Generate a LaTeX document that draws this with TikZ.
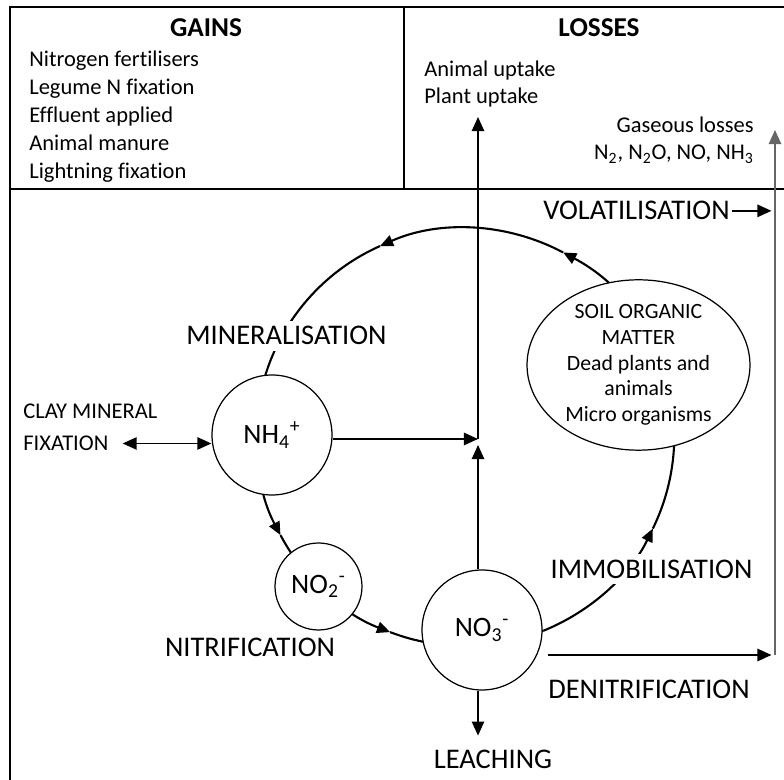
\documentclass[tikz,border=0pt]{standalone}
\usepackage{fontspec}
\setmainfont{Carlito}[Ligatures={NoCommon}]
\usetikzlibrary{shapes.geometric, arrows.meta, positioning, backgrounds, calc}

\begin{document}
\begin{tikzpicture}[x=0.02cm, y=0.02cm,
  frame/.style={line width=1pt},
  pool/.style={circle,draw,line width=0.7pt,fill=white,inner sep=0pt,font=\fontsize{16}{19}\selectfont},
  sombox/.style={ellipse,draw,line width=0.7pt,fill=white,inner sep=0pt,align=center,font=\fontsize{12.4}{14.6}\selectfont},
  small/.style={font=\fontsize{12.8}{15.9}\selectfont,inner sep=0pt},
  big/.style={font=\fontsize{16.2}{18}\selectfont},
  title/.style={font=\fontsize{15.5}{18}\selectfont\bfseries,inner sep=0pt},
  arr/.style={-{Triangle[length=8pt,width=7pt]},line width=1pt},
  dbl/.style={{Triangle[length=8pt,width=7pt]}-{Triangle[length=8pt,width=7pt]},line width=1pt},
  cyc/.style={-{Triangle[length=7.5pt,width=6.5pt]},line width=1.2pt},
  gasline/.style={draw=black!60,fill=black!60}
]
  \useasboundingbox (0,0) rectangle (784,780);

  % gains / losses table
  \draw[frame] (800,773) -| (10,-20);
  \draw[frame] (10,591) -- (800,591);
  \draw[frame] (404,773) -- (404,591);
  \node[title,anchor=base] (gains) at (206,743) {GAINS};
  \node[title,anchor=base] (losses) at (599,743) {LOSSES};
  \foreach \t [count=\i] in {Nitrogen fertilisers, Legume N fixation, Effluent applied, Animal manure, Lightning fixation}
    \node[small,anchor=base west] (g\i) at (29,{741-28*\i}) {\t};
  \node[small,anchor=base west] (animal) at (424,703) {Animal uptake};
  \node[small,anchor=base west] (plant) at (424,676) {Plant uptake};
  \node[small,anchor=base east] (gas) at (754,647) {Gaseous losses};
  \node[small,anchor=base east] (gasmix) at (754,620) {N\textsubscript{2}, N\textsubscript{2}O, NO, NH\textsubscript{3}};

  % pools
  \node[pool,minimum size=2.4cm] (nh4) at (272,345) {NH\textsubscript{4}\textsuperscript{+}};
  \node[pool,minimum size=1.74cm] (no2) at (318.5,193.5) {NO\textsubscript{2}\textsuperscript{-}};
  \node[pool,minimum size=2.4cm] (no3) at (482,150) {NO\textsubscript{3}\textsuperscript{-}};
  \node[sombox,minimum width=4.46cm,minimum height=3.32cm] (som) at (638.5,415)
    {SOIL ORGANIC\\MATTER\\Dead plants and\\animals\\Micro organisms};

  % process labels
  \node[big,fill=white,anchor=base] (minl) at (286.5,435) {MINERALISATION};
  \node[big,fill=white,anchor=base] (imml) at (651.5,201.7) {IMMOBILISATION};
  \node[big,anchor=base] (nitl) at (250,123.3) {NITRIFICATION};
  \node[big,anchor=base] (denl) at (649,81) {DENITRIFICATION};
  \node[big,anchor=base] (leal) at (493,11.7) {LEACHING};
  \node[big,inner sep=1pt,anchor=base] (voll) at (636.5,560) {VOLATILISATION};
  \node[small,anchor=base west] (clay) at (23,361) {CLAY MINERAL};
  \node[small,anchor=base west] (fix) at (23,329.3) {FIXATION};

  \coordinate (cc) at (465,343);
  \coordinate (jn) at (478,341);
  \coordinate (uptip) at (478,663);
  \coordinate (gastop) at (775,650);
  \coordinate (gasbot) at (775,125);

  % nitrogen cycle
  \begin{scope}[on background layer]
    \foreach \a/\b in {-68/-26, -26/62, 62/114, 114/208, 208/249}
      \draw[cyc] ([shift={(\a:209)}]cc) arc[start angle=\a, end angle=\b, radius=209];
    \draw[line width=1.2pt] ([shift={(249:209)}]cc) arc[start angle=249, end angle=292, radius=209];
  \end{scope}

  \draw[dbl] ($(fix.east)+(14,0)$) -- (fix.east -| nh4.west);
  \draw[arr] (nh4.east |- jn) -- (jn);
  \draw[arr] (jn |- no3.north) -- ($(jn)+(0,-6)$);
  \draw[arr] (jn) -- (uptip);
  \draw[arr,gasline] (gasbot) -- (gastop);
  \draw[arr,shorten >=2pt] (voll.east) -- (voll.east -| gastop);
  \draw[arr,shorten >=2pt] ($(no3.east)+(5,-25)$) -- (gasbot);
  \draw[arr] (jn |- no3.south) -- ($(jn |- no3.south)+(0,-45)$);
\end{tikzpicture}
\end{document}
